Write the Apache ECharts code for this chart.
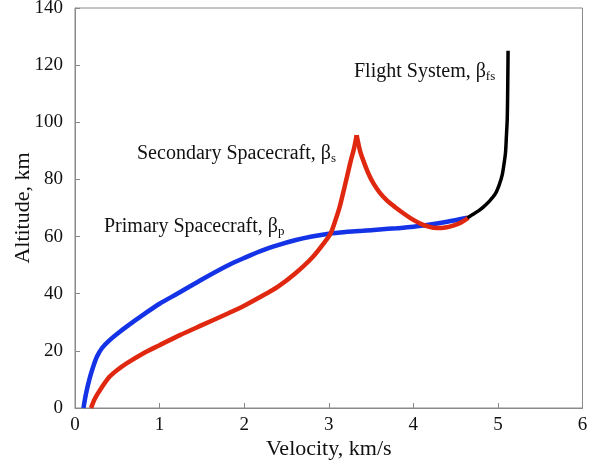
<!DOCTYPE html>
<html>
<head>
<meta charset="utf-8">
<script src="https://cdn.jsdelivr.net/npm/echarts@6/dist/echarts.min.js"></script>
<style>
html,body{margin:0;padding:0;background:#fff;}
#c{width:603px;height:465px;}
</style>
</head>
<body>
<div id="c"></div>
<script>
// Primary Spacecraft (blue): [velocity km/s, altitude km]
var primary = [[0.1,0],[0.13,5],[0.17,10],[0.21,14],[0.26,18],[0.32,21],[0.4,23.5],[0.5,26],[0.61,28.5],[0.8,32.5],[1.0,36.5],[1.24,40.5],[1.5,45],[1.8,49.8],[2.0,52.5],[2.2,55],[2.4,57],[2.6,58.7],[2.8,60],[3.0,61],[3.2,61.6],[3.4,62],[3.6,62.5],[3.8,62.9],[4.0,63.4],[4.2,64.2],[4.4,65.2],[4.64,66.6]];
// Secondary Spacecraft (red): rising branch and falling branch (cusp at peak)
var secondaryRise = [[0.19,0],[0.23,3],[0.3,6.5],[0.41,11],[0.5,13.3],[0.61,15.6],[0.8,19],[1.0,22],[1.24,25.5],[1.5,29],[1.8,33],[2.0,35.8],[2.2,39],[2.4,42.5],[2.6,47],[2.8,52.5],[2.95,58],[3.02,61],[3.08,65.8],[3.13,70.5],[3.18,76.5],[3.22,81.5],[3.26,86.5],[3.3,91],[3.33,95.5]];
var secondaryFall = [[3.33,95.5],[3.37,90],[3.41,86.5],[3.47,82],[3.53,78.5],[3.6,75.5],[3.69,72.6],[3.79,70.2],[3.89,68],[3.98,66.2],[4.08,64.6],[4.18,63.5],[4.28,63],[4.38,63.2],[4.48,63.9],[4.57,65],[4.65,66.6]];
// Flight System (black)
var flightSystem = [[4.64,66.6],[4.7,67.7],[4.77,69],[4.83,70.4],[4.9,72.4],[4.97,75],[5.02,78.5],[5.05,81.5],[5.07,85],[5.09,89.5],[5.1,95],[5.11,101],[5.115,110],[5.118,118],[5.12,125]];
var xTicks = [0,1,2,3,4,5,6];
var yTicks = [0,20,40,60,80,100,120,140];

var chart = echarts.init(document.getElementById('c'), null, {renderer:'canvas'});
var serif = 'Liberation Serif, Times New Roman, serif';
var axisGray = '#8a8a8a';
var lab = function(){
  return {m:{fontFamily:serif,fontSize:20,fill:'#111'},s:{fontFamily:serif,fontSize:13,fill:'#111',padding:[10,0,0,0]}};
};
chart.setOption({
  animation:false,
  backgroundColor:'#fff',
  grid:{left:75,top:8,right:20.5,bottom:57,containLabel:false,outerBoundsMode:'none',show:true,borderColor:axisGray,borderWidth:1},
  xAxis:{type:'value',min:0,max:6,interval:1,
    name:'Velocity, km/s',nameLocation:'middle',nameGap:30,nameMoveOverlap:false,
    nameTextStyle:{fontFamily:serif,fontSize:22,color:'#111'},
    axisLine:{show:true,lineStyle:{color:axisGray,width:1}},
    axisTick:{show:true,inside:true,length:5,lineStyle:{color:axisGray}},
    axisLabel:{fontFamily:serif,fontSize:19,color:'#111',margin:8,formatter:function(v){return xTicks.indexOf(v)>=0?String(v):'';}},
    splitLine:{show:false}},
  yAxis:{type:'value',min:0,max:140,interval:20,
    name:'Altitude, km',nameLocation:'middle',nameGap:41,nameMoveOverlap:false,
    nameTextStyle:{fontFamily:serif,fontSize:22,color:'#111'},
    axisLine:{show:true,lineStyle:{color:axisGray,width:1}},
    axisTick:{show:true,inside:true,length:5,lineStyle:{color:axisGray}},
    axisLabel:{fontFamily:serif,fontSize:19,color:'#111',margin:12,formatter:function(v){return yTicks.indexOf(v)>=0?String(v):'';}},
    splitLine:{show:false}},
  series:[
    {type:'line',data:primary,smooth:0.3,symbol:'none',lineStyle:{color:'#1432e6',width:4.5},z:2},
    {type:'line',data:secondaryRise,smooth:0.3,symbol:'none',lineStyle:{color:'#e02810',width:4.5},z:3},
    {type:'line',data:secondaryFall,smooth:0.3,symbol:'none',lineStyle:{color:'#e02810',width:4.5},z:3},
    {type:'line',data:flightSystem,smooth:0.3,symbol:'none',lineStyle:{color:'#000',width:3.5},z:4}
  ],
  graphic:[
    {type:'text',left:104,top:217,style:{text:'{m|Primary Spacecraft, β}{s|p}',rich:lab()}},
    {type:'text',left:137,top:144,style:{text:'{m|Secondary Spacecraft, β}{s|s}',rich:lab()}},
    {type:'text',left:354,top:62,style:{text:'{m|Flight System, β}{s|fs}',rich:lab()}}
  ]
});
</script>
</body>
</html>
